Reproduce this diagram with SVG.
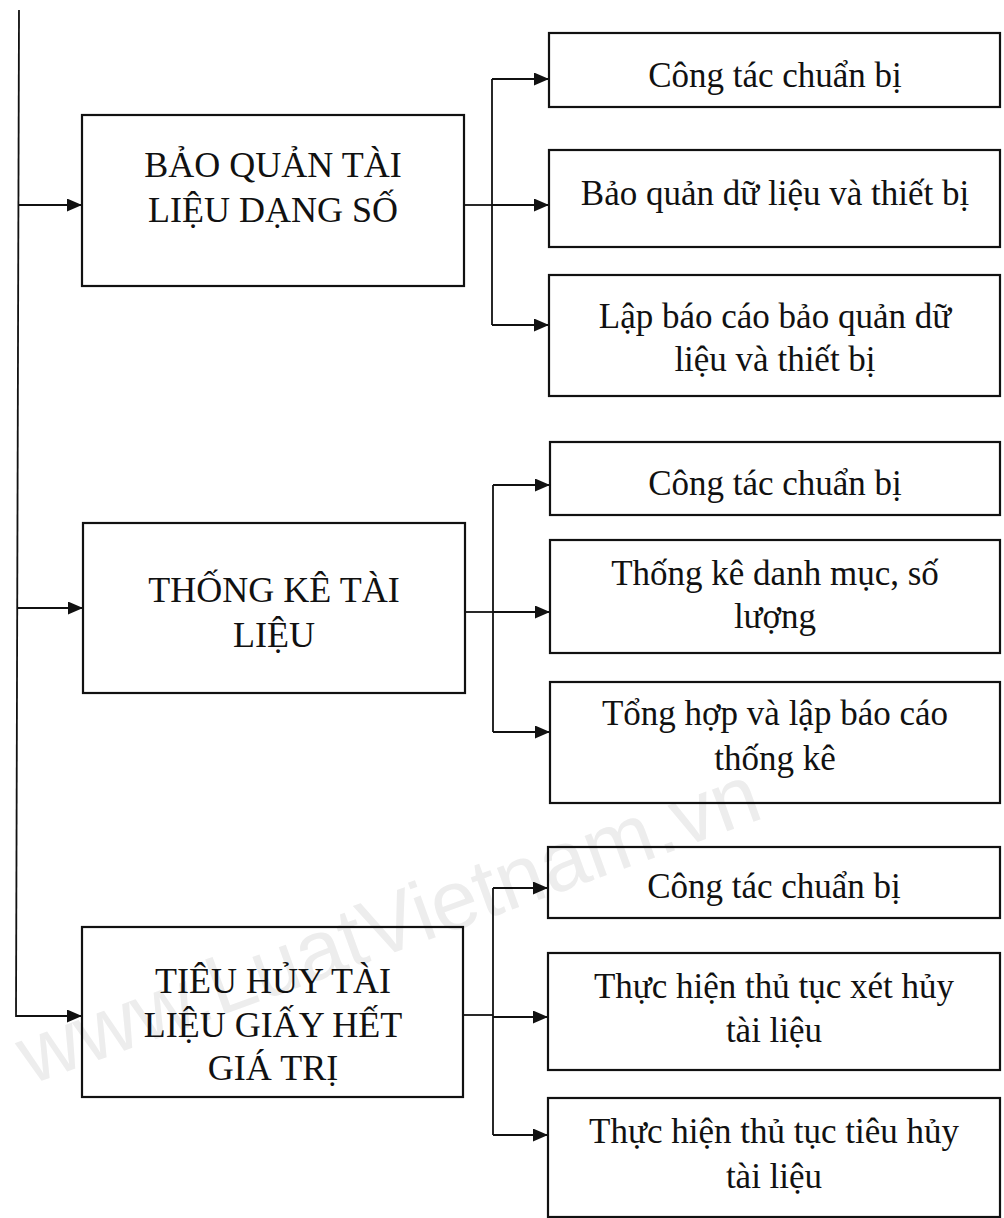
<svg xmlns="http://www.w3.org/2000/svg" width="1004" height="1218" viewBox="0 0 1004 1218">
<defs>
<marker id="arr" markerUnits="userSpaceOnUse" markerWidth="16" markerHeight="14" refX="15" refY="6.5" orient="auto">
<path d="M0,0 L15,6.5 L0,13 z" fill="#111"/>
</marker>
<style>
.box{fill:none;stroke:#111;stroke-width:2.2}
.ln{fill:none;stroke:#111;stroke-width:1.8}
.ar{fill:none;stroke:#111;stroke-width:1.8;marker-end:url(#arr)}
.m{font-family:"Liberation Serif","Times New Roman",serif;font-size:36px;fill:#111;text-anchor:middle}
.c{font-family:"Liberation Serif","Times New Roman",serif;font-size:35px;fill:#111;text-anchor:middle}
.wm{font-family:"Liberation Sans",Arial,sans-serif;font-size:84px;fill:#ededed}
</style>
</defs>
<rect width="1004" height="1218" fill="#fff"/>
<text class="wm" transform="translate(30,1085) rotate(-20)">www.LuatVietnam.vn</text>

<g id="connectors">
<line class="ln" x1="19" y1="10" x2="16" y2="1017"/>
<line class="ar" x1="19" y1="205" x2="82" y2="205"/>
<line class="ar" x1="18" y1="608" x2="83" y2="608"/>
<line class="ar" x1="16" y1="1016" x2="82" y2="1016"/>

<line class="ln" x1="464" y1="205" x2="492" y2="205"/>
<line class="ln" x1="492" y1="79" x2="492" y2="325"/>
<line class="ar" x1="492" y1="79" x2="549" y2="79"/>
<line class="ar" x1="492" y1="205" x2="549" y2="205"/>
<line class="ar" x1="492" y1="325" x2="549" y2="325"/>

<line class="ln" x1="465" y1="612" x2="493" y2="612"/>
<line class="ln" x1="493" y1="485" x2="493" y2="732"/>
<line class="ar" x1="493" y1="485" x2="550" y2="485"/>
<line class="ar" x1="493" y1="612" x2="550" y2="612"/>
<line class="ar" x1="493" y1="732" x2="550" y2="732"/>

<line class="ln" x1="463" y1="1015" x2="493" y2="1015"/>
<line class="ln" x1="493" y1="888" x2="493" y2="1135"/>
<line class="ar" x1="493" y1="888" x2="548" y2="888"/>
<line class="ar" x1="493" y1="1017" x2="548" y2="1017"/>
<line class="ar" x1="493" y1="1135" x2="548" y2="1135"/>
</g>

<g id="main1"><rect class="box" x="82" y="115" width="382" height="171"/>
<text class="m" x="273" y="177">BẢO QUẢN TÀI</text><text class="m" x="273" y="222">LIỆU DẠNG SỐ</text></g>
<g id="main2"><rect class="box" x="83" y="523" width="382" height="170"/>
<text class="m" x="274" y="602">THỐNG KÊ TÀI</text><text class="m" x="274" y="647">LIỆU</text></g>
<g id="main3"><rect class="box" x="82" y="927" width="381" height="170"/>
<text class="m" x="273" y="993">TIÊU HỦY TÀI</text><text class="m" x="273" y="1037">LIỆU GIẤY HẾT</text><text class="m" x="273" y="1080">GIÁ TRỊ</text></g>

<g id="g1c1"><rect class="box" x="549" y="33" width="451" height="74"/>
<text class="c" x="775" y="87">Công tác chuẩn bị</text></g>
<g id="g1c2"><rect class="box" x="549" y="150" width="451" height="97"/>
<text class="c" x="775" y="205">Bảo quản dữ liệu và thiết bị</text></g>
<g id="g1c3"><rect class="box" x="549" y="275" width="451" height="121"/>
<text class="c" x="775" y="328">Lập báo cáo bảo quản dữ</text><text class="c" x="775" y="371">liệu và thiết bị</text></g>

<g id="g2c1"><rect class="box" x="550" y="442" width="450" height="73"/>
<text class="c" x="775" y="495">Công tác chuẩn bị</text></g>
<g id="g2c2"><rect class="box" x="550" y="540" width="450" height="113"/>
<text class="c" x="775" y="585">Thống kê danh mục, số</text><text class="c" x="775" y="628">lượng</text></g>
<g id="g2c3"><rect class="box" x="550" y="682" width="450" height="121"/>
<text class="c" x="775" y="725">Tổng hợp và lập báo cáo</text><text class="c" x="775" y="770">thống kê</text></g>

<g id="g3c1"><rect class="box" x="548" y="847" width="452" height="71"/>
<text class="c" x="774" y="898">Công tác chuẩn bị</text></g>
<g id="g3c2"><rect class="box" x="548" y="953" width="452" height="117"/>
<text class="c" x="774" y="998">Thực hiện thủ tục xét hủy</text><text class="c" x="774" y="1042">tài liệu</text></g>
<g id="g3c3"><rect class="box" x="548" y="1098" width="452" height="119"/>
<text class="c" x="774" y="1143">Thực hiện thủ tục tiêu hủy</text><text class="c" x="774" y="1188">tài liệu</text></g>
</svg>
